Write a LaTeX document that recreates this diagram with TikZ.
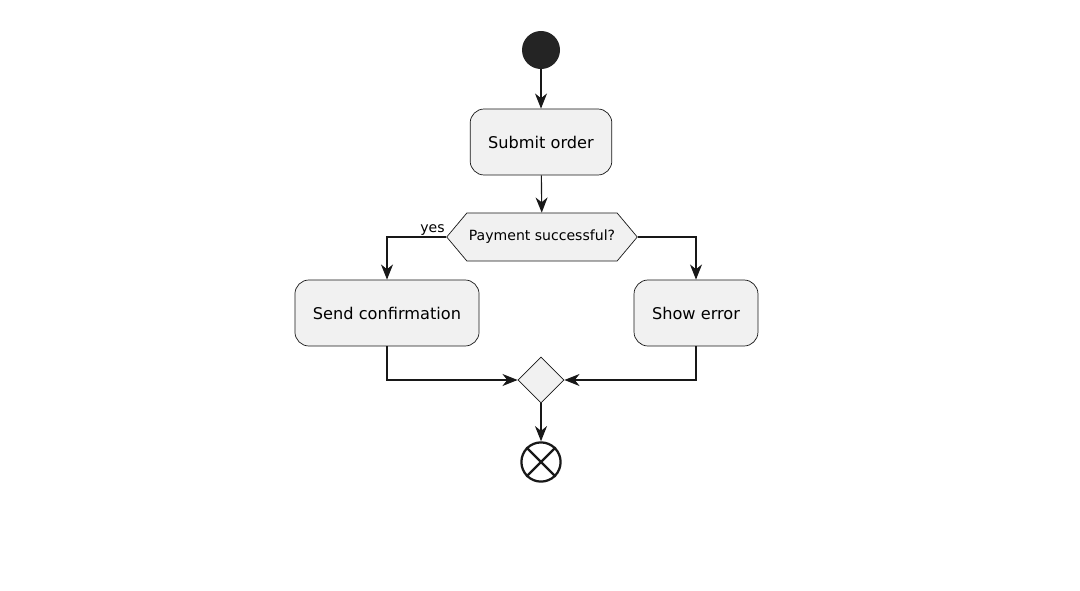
\documentclass[tikz,border=0pt]{standalone}
\usepackage{fontspec}
\setmainfont{DejaVu Sans}
\usetikzlibrary{shapes.geometric,shapes.symbols,arrows.meta,positioning}
\definecolor{boxfill}{HTML}{F1F1F1}
\definecolor{ink}{HTML}{181818}
\begin{document}
\begin{tikzpicture}[
    x=0.025cm, y=-0.025cm,
    action/.style = {rectangle, rounded corners=0.35cm, draw=ink, fill=boxfill, line width=0.5pt, minimum height=1.65cm, inner xsep=0.45cm, font=\fontsize{11.5}{14}\selectfont},
    decision/.style = {signal, signal to=west and east, signal pointer angle=100, draw=ink, fill=boxfill, line width=0.5pt, minimum height=1.2cm, inner xsep=0.05cm, font=\fontsize{10}{12}\selectfont},
    merge/.style = {diamond, draw=ink, fill=boxfill, line width=0.5pt, minimum size=1.15cm, inner sep=0pt},
    flow/.style = {-{Stealth[length=0.38cm, width=0.3cm, inset=0.12cm]}, draw=ink, line width=0.8pt}
]
    \useasboundingbox (0,0) rectangle (1080,591);

    % start and end
    \node[circle, fill=ink!95, minimum size=0.95cm, inner sep=0pt] (start) at (541,50) {};
    \node[circle, draw=ink, fill=white, line width=1.6pt, minimum size=0.98cm, inner sep=0pt] (stop) at (541,462) {};
    \draw[ink, line width=1.6pt] (stop.north west) -- (stop.south east) (stop.north east) -- (stop.south west);

    % actions
    \node[action] (submit) at (541,142) {Submit order};
    \node[decision] (pay) at (542,237) {Payment successful?};
    \node[action] (confirm) at (387,313) {Send confirmation};
    \node[action] (error) at (696,313) {Show error};
    \node[merge] (join) at (541,380) {};

    % label
    \node[font=\fontsize{10}{12}\selectfont, anchor=south east, inner sep=1pt] (yes) at (pay.west) {yes};

    % connectors
    \draw[flow] (start) -- (submit);
    \draw[flow] (submit) -- (pay);
    \draw[flow] (pay.west) -| (confirm.north);
    \draw[flow] (pay.east) -| (error.north);
    \draw[flow] (confirm.south) |- (join.west);
    \draw[flow] (error.south) |- (join.east);
    \draw[flow] (join) -- (stop);
\end{tikzpicture}
\end{document}
